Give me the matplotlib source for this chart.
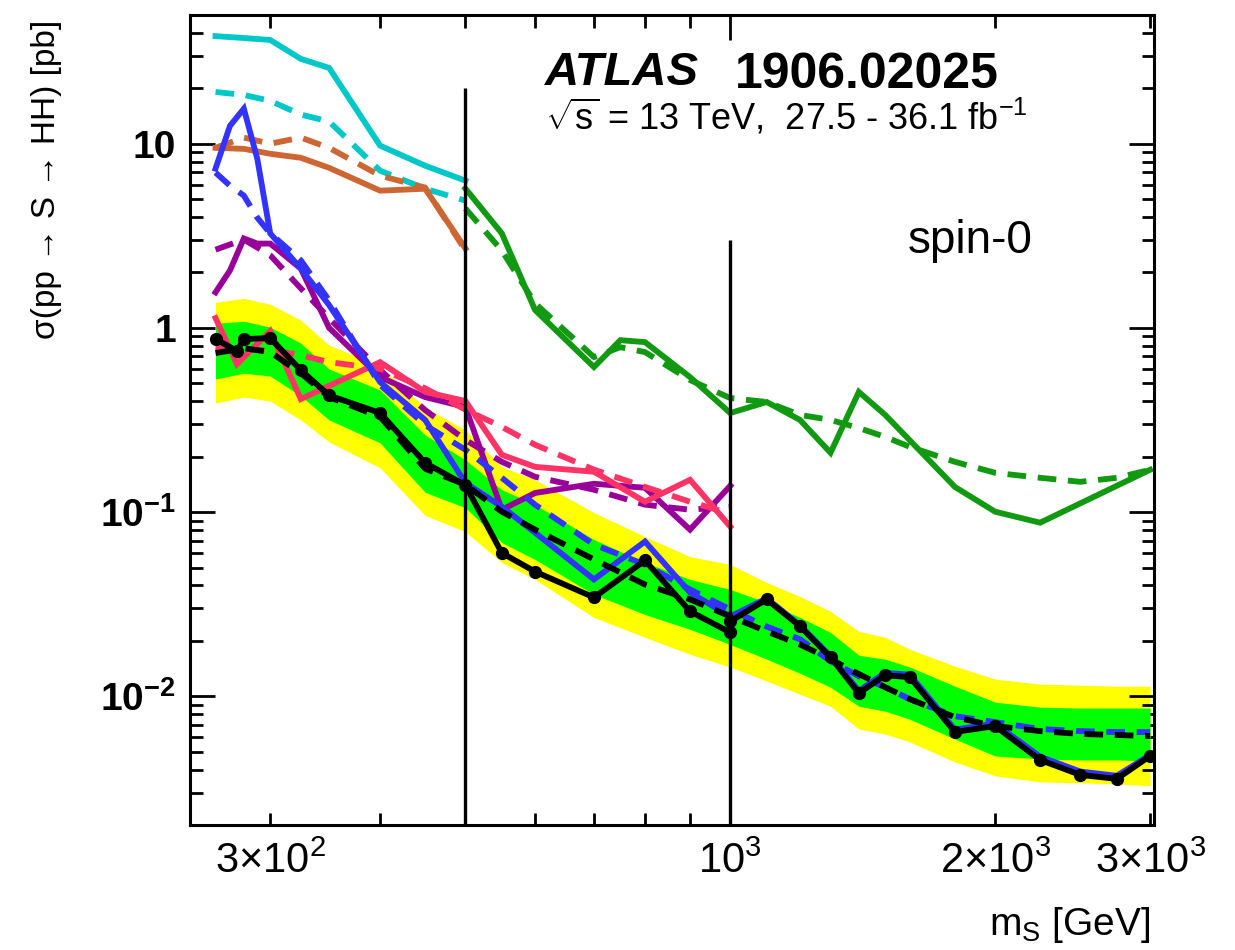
import matplotlib
matplotlib.use('Agg')
import matplotlib.pyplot as plt
from matplotlib.ticker import FixedLocator, FuncFormatter, NullFormatter, LogLocator

plt.rcParams['font.family'] = ['Liberation Sans', 'DejaVu Sans']
plt.rcParams['mathtext.fontset'] = 'custom'
plt.rcParams['mathtext.rm'] = 'Liberation Sans'
plt.rcParams['mathtext.it'] = 'Liberation Sans:italic'
plt.rcParams['mathtext.bf'] = 'Liberation Sans:bold'

# ---------------- data ----------------
band_mass = [260, 280, 300, 325, 350, 400, 450, 500, 550, 600, 700, 800, 900, 1000,
             1100, 1200, 1300, 1400, 1500, 1600, 1800, 2000, 2250, 2500, 2750, 3000]
comb_exp = [0.730, 0.776, 0.739, 0.568, 0.421, 0.3285, 0.172, 0.1407, 0.1005, 0.0803, 0.0553,
            0.0404, 0.0336, 0.0271, 0.0225, 0.0191, 0.0159, 0.0132, 0.0112, 0.00964, 0.0077,
            0.00689, 0.00647, 0.00624, 0.00616, 0.00608]
band_p1 = [1.060, 1.087, 1.009, 0.826, 0.598, 0.460, 0.262, 0.1921, 0.1322, 0.1097, 0.0709,
           0.0532, 0.0431, 0.038, 0.0323, 0.0268, 0.0222, 0.0167, 0.0159, 0.0144, 0.01135,
           0.00929, 0.00873, 0.00863, 0.00863, 0.00863]
band_m1 = [0.528, 0.568, 0.548, 0.427, 0.3165, 0.2375, 0.128, 0.1056, 0.0683, 0.0553, 0.0357,
           0.0278, 0.0231, 0.0191, 0.0159, 0.01334, 0.0112, 0.00883, 0.0083, 0.0075, 0.00586,
           0.00474, 0.00457, 0.00451, 0.00451, 0.00446]
band_p2 = [1.377, 1.448, 1.344, 1.101, 0.806, 0.620, 0.37, 0.2793, 0.1761, 0.1497, 0.0993,
           0.0736, 0.0573, 0.0519, 0.0415, 0.0348, 0.0289, 0.0225, 0.0209, 0.018, 0.01456,
           0.0124, 0.01164, 0.01149, 0.01135, 0.01135]
band_m2 = [0.391, 0.421, 0.401, 0.3165, 0.2405, 0.1739, 0.096, 0.0783, 0.0532, 0.0431, 0.0268,
           0.0209, 0.0169, 0.0144, 0.0121, 0.01027, 0.00883, 0.00664, 0.00624, 0.00565, 0.0044,
           0.0037, 0.00343, 0.00339, 0.00334, 0.00327]

comb_obs_mass = [260, 275, 280, 300, 325, 350, 400, 450, 500, 550, 600, 700, 800, 900, 1000,
                 1000, 1100, 1200, 1300, 1400, 1500, 1600, 1800, 2000, 2250, 2500, 2750, 3000]
comb_obs = [0.87, 0.75, 0.87, 0.88, 0.59, 0.43, 0.345, 0.185, 0.14, 0.060, 0.0475, 0.0344,
            0.0546, 0.0289, 0.0222, 0.0255, 0.0336, 0.024, 0.0163, 0.0104, 0.0130, 0.0127,
            0.0064, 0.00689, 0.00451, 0.00374, 0.00356, 0.00474]

wwww_mass = [260, 280, 300, 325, 350, 400, 450, 500]
wwww_obs = [38.4, 37.5, 36.6, 28.9, 25.8, 9.76, 7.6, 6.3]
wwww_exp = [19.1, 18.4, 17.1, 14.4, 13.2, 7.14, 5.7, 4.91]

wwyy_mass = [260, 280, 300, 325, 350, 400, 450, 500]
wwyy_obs = [9.5, 9.38, 8.82, 8.39, 7.40, 5.56, 5.70, 2.70]
wwyy_exp = [9.5, 10.8, 10.0, 10.8, 9.5, 6.71, 5.78, 2.63]

bbbb_mass = [260, 270, 280, 290, 300, 325, 350, 400, 450, 500, 550, 600, 700, 800, 900, 1000,
             1100, 1200, 1300, 1400, 1500, 1600, 1800, 2000, 2250, 2500, 2750, 3000]
bbbb_obs = [7.32, 12.5, 15.5, 8.3, 3.26, 2.1, 1.33, 0.508, 0.3165, 0.144, 0.107, 0.0773, 0.0431,
            0.0692, 0.0366, 0.0271, 0.034, 0.0243, 0.0165, 0.0107, 0.0134, 0.0131, 0.0066,
            0.0071, 0.0047, 0.0039, 0.0037, 0.0048]
bbbb_exp = [6.97, 5.92, 5.23, 3.97, 3.26, 2.33, 1.41, 0.49, 0.297, 0.218, 0.1535, 0.1097, 0.0666,
            0.0519, 0.038, 0.0296, 0.0239, 0.0204, 0.0155, 0.01285, 0.0112, 0.00964, 0.0078,
            0.00724, 0.00664, 0.00647, 0.00639, 0.00639]

bbyy_obs_mass = [260, 270, 280, 290, 300, 325, 350, 400, 450, 500, 550, 600, 700, 800, 900, 1000]
bbyy_obs = [1.56, 2.05, 3.06, 2.87, 2.87, 2.10, 1.0, 0.541, 0.421, 0.372, 0.103, 0.127, 0.1425,
            0.1355, 0.0803, 0.139]
bbyy_exp_mass = [260, 280, 300, 325, 350, 400, 450, 500, 550, 600, 700, 800, 900, 1000]
bbyy_exp = [2.66, 3.02, 2.48, 1.64, 1.13, 0.59, 0.358, 0.2466, 0.1875, 0.1555, 0.1322, 0.1097,
            0.103, 0.107]

bbtt_obs_mass = [260, 275, 300, 325, 400, 450, 500, 550, 600, 700, 800, 900, 1000]
bbtt_obs = [1.13, 0.636, 0.96, 0.411, 0.652, 0.449, 0.401, 0.2047, 0.176, 0.1656, 0.1138,
            0.1497, 0.0834]
bbtt_exp_mass = [260, 275, 300, 325, 350, 400, 450, 500, 550, 600, 700, 800, 900, 1000]
bbtt_exp = [0.78, 0.76, 0.76, 0.711, 0.652, 0.60, 0.47, 0.36, 0.29, 0.232, 0.17, 0.137, 0.1138,
            0.098]

bbww_obs_mass = [500, 550, 600, 700, 750, 800, 900, 1000, 1100, 1200, 1300, 1400, 1500, 1800,
                 2000, 2250, 3000]
bbww_obs = [5.71, 3.26, 1.25, 0.613, 0.858, 0.837, 0.541, 0.345, 0.396, 0.3165, 0.21, 0.449,
            0.337, 0.137, 0.1005, 0.0876, 0.1697]
bbww_exp_mass = [500, 550, 600, 700, 750, 800, 900, 1000, 1100, 1200, 1300, 1400, 1500, 1600,
                 1800, 2000, 2250, 2500, 2750, 3000]
bbww_exp = [4.45, 2.63, 1.36, 0.694, 0.786, 0.739, 0.521, 0.416, 0.396, 0.337, 0.3165, 0.286,
            0.256, 0.226, 0.1875, 0.1634, 0.1535, 0.146, 0.1535, 0.1697]

divider_mass = [500, 1000]
divider_top = [20, 3]

x_minor_ticks = [300, 400, 500, 600, 700, 800, 900, 2000, 3000]
x_minor_labels = {300: r'3$\times$10$^{2}$', 2000: r'2$\times$10$^{3}$', 3000: r'3$\times$10$^{3}$'}
y_ticks = [0.01, 0.1, 1, 10]
y_labels = [r'$\mathbf{10^{-2}}$', r'$\mathbf{10^{-1}}$', '1', '10']

# ---------------- plot ----------------
W, H = 1235, 950
fig = plt.figure(figsize=(W / 100, H / 100), dpi=100)
ax = fig.add_axes([190 / W, 125 / H, 964 / W, 810 / H])
ax.set_xscale('log')
ax.set_yscale('log')
ymin, ymax = 0.002, 50
ax.set_xlim(243.2, 3031)
ax.set_ylim(ymin, ymax)

ax.fill_between(band_mass, band_m2, band_p2, color='#ffff00', lw=0, zorder=1)
ax.fill_between(band_mass, band_m1, band_p1, color='#00ff00', lw=0, zorder=2)

lw = 4.2
dash = (0, (3.2, 2.0))
series = [
    (bbww_obs_mass, bbww_obs, bbww_exp_mass, bbww_exp, '#119911'),
    (wwww_mass, wwww_obs, wwww_mass, wwww_exp, '#00c8c8'),
    (wwyy_mass, wwyy_obs, wwyy_mass, wwyy_exp, '#cc6633'),
    (bbyy_obs_mass, bbyy_obs, bbyy_exp_mass, bbyy_exp, '#990099'),
    (bbtt_obs_mass, bbtt_obs, bbtt_exp_mass, bbtt_exp, '#ff3366'),
    (bbbb_mass, bbbb_obs, bbbb_mass, bbbb_exp, '#3333ff'),
]
z = 3
for om, ov, em, ev, c in series:
    ax.plot(em, ev, color=c, lw=lw, linestyle=dash, zorder=z)
    ax.plot(om, ov, color=c, lw=lw, solid_joinstyle='miter', zorder=z + 0.5)
    z += 1

ax.plot(band_mass, comb_exp, color='black', lw=lw, linestyle=dash, zorder=20)
ax.plot(comb_obs_mass, comb_obs, color='black', lw=lw, marker='o', ms=8.5, zorder=21)

ax.vlines(divider_mass, ymin, divider_top, color='black', lw=2.4, zorder=22)

# axes styling
for s in ax.spines.values():
    s.set_linewidth(2.2)
    s.set_zorder(30)
ax.tick_params(which='both', direction='in', top=True, right=True, width=2)
ax.tick_params(which='major', length=18)
ax.tick_params(which='minor', length=9)

ax.xaxis.set_major_locator(FixedLocator([1000]))
ax.xaxis.set_minor_locator(FixedLocator(x_minor_ticks))
ax.xaxis.set_major_formatter(FuncFormatter(lambda v, p: r'10$^{3}$'))
ax.xaxis.set_minor_formatter(FuncFormatter(lambda v, p: x_minor_labels.get(int(round(v)), '')))
ax.tick_params(axis='x', which='both', labelsize=30, pad=12)

ax.set_yticks(y_ticks, labels=y_labels)
ax.yaxis.set_minor_locator(LogLocator(base=10, subs=range(2, 10), numticks=20))
ax.yaxis.set_minor_formatter(NullFormatter())
ax.tick_params(axis='y', which='both', labelsize=28, pad=10)
for t in ax.get_yticklabels():
    t.set_fontweight('bold')

fig.text(46 / W, 1 - 20 / H, 'σ(pp → S → HH) [pb]', rotation=90, ha='center', va='top',
         fontsize=24)
fig.text(1150 / W, 1 - 935 / H, r'm$_{\mathrm{S}}$ [GeV]', ha='right', va='baseline',
         fontsize=28)

fig.text(545 / W, 1 - 85 / H, 'ATLAS', fontsize=34, fontweight='bold', fontstyle='italic',
         ha='left', va='baseline')
fig.text(735 / W, 1 - 88 / H, '1906.02025', fontsize=36, fontweight='bold',
         ha='left', va='baseline')
fig.text(545 / W, 1 - 130 / H, r'$\sqrt{\mathrm{s}}$ = 13 TeV,  27.5 - 36.1 fb$^{\mathrm{-1}}$',
         fontsize=26, ha='left', va='baseline')
fig.text(908 / W, 1 - 253 / H, 'spin-0', fontsize=33, ha='left', va='baseline')

fig.savefig('out.png', dpi=100)
